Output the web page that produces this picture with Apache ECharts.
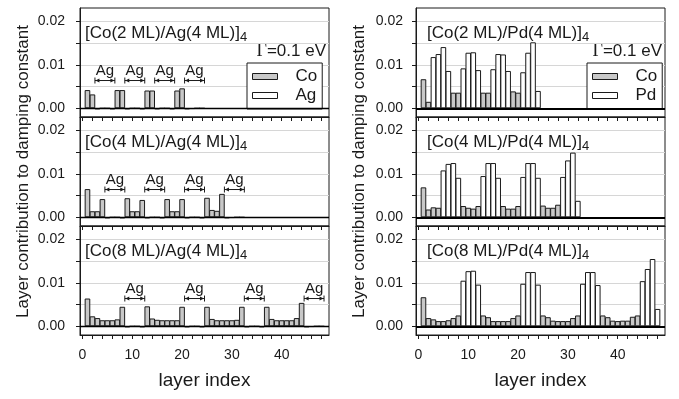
<!DOCTYPE html>
<html>
<head>
<meta charset="utf-8">
<script src="https://cdn.jsdelivr.net/npm/echarts@6/dist/echarts.min.js"></script>
<style>
html, body { margin: 0; padding: 0; background: #fff; }
#chart { width: 679px; height: 399px; }
</style>
</head>
<body>
<div id="chart"></div>
<script>
// layer contribution to the damping constant, layer index 1..N
var coAg2 = [0.0042, 0.0032, -0.0002, 0, 0, -0.0002,
             0.0042, 0.0042, -0.0002, 0, 0, -0.0002,
             0.0041, 0.0041, -0.0002, 0, 0, -0.0002,
             0.0041, 0.0046, -0.0002, -0.0001, 0, 0];
var coAg4 = [0.0065, 0.0014, 0.0014, 0.0042, -0.0002, 0, 0, -0.0002,
             0.0044, 0.0014, 0.0014, 0.0040, -0.0002, 0, 0, -0.0002,
             0.0042, 0.0014, 0.0014, 0.0042, -0.0002, 0, 0, -0.0002,
             0.0045, 0.0017, 0.0015, 0.0054, -0.0002, -0.0001, 0, 0];
var coAg8 = [0.0064, 0.0023, 0.0019, 0.0014, 0.0014, 0.0014, 0.0016, 0.0045, -0.0002, 0, 0, -0.0002,
             0.0046, 0.0018, 0.0015, 0.0014, 0.0014, 0.0014, 0.0014, 0.0045, -0.0002, 0, 0, -0.0002,
             0.0045, 0.0017, 0.0014, 0.0014, 0.0014, 0.0014, 0.0015, 0.0045, -0.0002, 0, 0, -0.0002,
             0.0045, 0.0017, 0.0014, 0.0014, 0.0014, 0.0014, 0.0019, 0.0054, -0.0002, -0.0001, 0, 0];
var coPd2 = [0.0067, 0.0015, 0.0118, 0.0125, 0.0141, 0.0086,
             0.0036, 0.0036, 0.0092, 0.0128, 0.0129, 0.0088,
             0.0036, 0.0036, 0.0090, 0.0125, 0.0124, 0.0086,
             0.0039, 0.0036, 0.0083, 0.0128, 0.0152, 0.0040];
var coPd4 = [0.0069, 0.0018, 0.0023, 0.0022, 0.0108, 0.0123, 0.0125, 0.0091,
             0.0026, 0.0022, 0.0020, 0.0026, 0.0095, 0.0125, 0.0125, 0.0091,
             0.0026, 0.0020, 0.0020, 0.0026, 0.0093, 0.0125, 0.0125, 0.0091,
             0.0027, 0.0022, 0.0022, 0.0029, 0.0093, 0.0131, 0.0149, 0.0038];
var coPd8 = [0.0067, 0.0019, 0.0016, 0.0012, 0.0012, 0.0014, 0.0019, 0.0025, 0.0105, 0.0127, 0.0128, 0.0096,
             0.0025, 0.0021, 0.0012, 0.0012, 0.0012, 0.0012, 0.0019, 0.0025, 0.0098, 0.0125, 0.0125, 0.0096,
             0.0025, 0.0021, 0.0013, 0.0012, 0.0012, 0.0012, 0.0019, 0.0025, 0.0098, 0.0125, 0.0125, 0.0095,
             0.0025, 0.0021, 0.0013, 0.0012, 0.0013, 0.0013, 0.0022, 0.0025, 0.0104, 0.0132, 0.0155, 0.0040];

var coLayers = [2, 4, 8];      // Co monolayers per period (rows)
var spacerLayers = 4;          // Ag / Pd monolayers per period
var periods = 4;
var xTicks = [0, 2, 4, 6, 8, 10, 12, 14, 16, 18, 20, 22, 24, 26, 28, 30, 32, 34, 36, 38, 40, 42, 44, 46, 48];
var xLabels = [0, 10, 20, 30, 40];
var yTicks = [0, 0.005, 0.01, 0.015, 0.02];
var yLabels = [0, 0.01, 0.02];

var panels = [
    {col: 0, row: 0, vals: coAg2, spacer: 'Ag'},
    {col: 0, row: 1, vals: coAg4, spacer: 'Ag'},
    {col: 0, row: 2, vals: coAg8, spacer: 'Ag'},
    {col: 1, row: 0, vals: coPd2, spacer: 'Pd'},
    {col: 1, row: 1, vals: coPd4, spacer: 'Pd'},
    {col: 1, row: 2, vals: coPd8, spacer: 'Pd'}
];

var FONT = '"Liberation Sans", Arial, Helvetica, sans-serif';
var INK = '#1a1a1a';
var gridLeft = [80, 416];
var gridTop = [8, 117, 226];
var W = 249, H = 109;

var grids = [], xAxes = [], yAxes = [], series = [], graphics = [];

panels.forEach(function (p, i) {
    var nCo = coLayers[p.row];
    var coData = [], spData = [], spans = [];
    p.vals.forEach(function (v, j) {
        var pos = j % (nCo + spacerLayers);
        if (pos < nCo) coData.push([j + 1, v]);
        else spData.push([j + 1, v]);
    });
    for (var k = 0; k < periods; k++) {
        var s = k * (nCo + spacerLayers) + nCo + 0.5;
        spans.push([s, s + spacerLayers]);
    }

    grids.push({
        left: gridLeft[p.col], top: gridTop[p.row], width: W, height: H,
        show: true, borderColor: INK, borderWidth: 1, backgroundColor: '#fff'
    });
    xAxes.push({
        gridIndex: i, type: 'value', min: -0.5, max: 49.5,
        axisLine: {show: true, onZero: false, lineStyle: {color: INK}},
        axisTick: {show: true, length: 4, customValues: xTicks, lineStyle: {color: INK}},
        axisLabel: {show: p.row === 2, customValues: xLabels, margin: 13,
            fontSize: 14, color: INK, fontFamily: FONT},
        splitLine: {show: false},
        name: p.row === 2 ? 'layer index' : '',
        nameLocation: 'middle', nameGap: 36,
        nameTextStyle: {fontSize: 19, color: INK, fontFamily: FONT}
    });
    yAxes.push({
        gridIndex: i, type: 'value', min: -0.002, max: 0.0231,
        axisLine: {show: true, onZero: false, lineStyle: {color: INK}},
        axisTick: {show: true, length: 4, customValues: yTicks, lineStyle: {color: INK}},
        axisLabel: {customValues: yLabels, margin: p.col === 0 ? 15 : 13,
            fontSize: 14, color: INK, fontFamily: FONT,
            formatter: function (v) { return v.toFixed(2); }},
        splitLine: {show: true, lineStyle: {color: '#d6d6d6', width: 1}},
        name: p.row === 1 ? 'Layer contribution to damping constant' : '',
        nameLocation: 'middle', nameRotate: 90, nameGap: 48,
        nameTextStyle: {fontSize: 17, color: INK, fontFamily: FONT}
    });

    series.push({
        type: 'bar', name: 'Co', xAxisIndex: i, yAxisIndex: i,
        data: coData, barWidth: 5.6, barGap: '-100%',
        itemStyle: {color: '#c8c8c8', borderColor: INK, borderWidth: 1},
        markLine: {
            silent: true, symbol: 'none', label: {show: false},
            lineStyle: {color: '#000', width: p.col === 0 ? 1.3 : 2, type: 'solid'},
            data: [{yAxis: 0}]
        }
    });
    series.push({
        type: 'bar', name: p.spacer, xAxisIndex: i, yAxisIndex: i,
        data: spData, barWidth: 5.6, barGap: '-100%',
        itemStyle: {color: '#fff', borderColor: INK, borderWidth: 1}
    });

    if (p.spacer === 'Ag') {
        series.push({
            type: 'custom', name: 'Ag span', xAxisIndex: i, yAxisIndex: i,
            data: spans, silent: true,
            renderItem: function (params, api) {
                var lvl = 0.0064;
                var a = api.coord([api.value(0), lvl]);
                var b = api.coord([api.value(1), lvl]);
                var st = {stroke: INK, lineWidth: 1};
                return {
                    type: 'group',
                    children: [
                        {type: 'line', shape: {x1: a[0], y1: a[1], x2: b[0], y2: b[1]}, style: st},
                        {type: 'line', shape: {x1: a[0], y1: a[1] - 3, x2: a[0], y2: a[1] + 3}, style: st},
                        {type: 'line', shape: {x1: b[0], y1: b[1] - 3, x2: b[0], y2: b[1] + 3}, style: st},
                        {type: 'polygon', shape: {points: [[a[0] + 0.5, a[1]], [a[0] + 4.5, a[1] - 2], [a[0] + 4.5, a[1] + 2]]}, style: {fill: INK}},
                        {type: 'polygon', shape: {points: [[b[0] - 0.5, b[1]], [b[0] - 4.5, b[1] - 2], [b[0] - 4.5, b[1] + 2]]}, style: {fill: INK}},
                        {type: 'text', x: (a[0] + b[0]) / 2, y: a[1] - 10,
                            style: {text: 'Ag', align: 'center', verticalAlign: 'middle',
                                fontSize: 15, fontFamily: FONT, fill: INK}}
                    ]
                };
            }
        });
    }

    var nm = p.spacer === 'Ag' ? 'Ag' : 'Pd';
    graphics.push({
        type: 'text', x: gridLeft[p.col] + (p.col === 0 ? 5 : 11), y: gridTop[p.row] + 25,
        style: {
            text: '{a|[Co(' + nCo + ' ML)/' + nm + '(4 ML)]}{s|4}',
            verticalAlign: 'middle', fill: INK,
            rich: {
                a: {fontSize: 17, fontFamily: FONT, fill: INK},
                s: {fontSize: 13, fontFamily: FONT, fill: INK, padding: [9, 0, 0, 0]}
            }
        }
    });
});

[0, 1].forEach(function (c) {
    graphics.push({
        type: 'text', x: gridLeft[c] + W - 3, y: 51,
        style: {
            text: '{g|\u0393}{t|=0.1 eV}', align: 'right', verticalAlign: 'middle',
            rich: {
                g: {fontSize: 18, fontFamily: '"Liberation Serif", "Times New Roman", serif', fill: INK},
                t: {fontSize: 17, fontFamily: FONT, fill: INK}
            }
        }
    });
});

function makeLegend(names, left) {
    return {
        data: names, orient: 'vertical', left: left, top: 63,
        icon: 'rect', itemWidth: 25, itemHeight: 6, itemGap: 2,
        padding: [5, 5, 5, 5],
        backgroundColor: '#fff', borderColor: INK, borderWidth: 1,
        itemStyle: {borderColor: INK, borderWidth: 1},
        textStyle: {fontSize: 17, fontFamily: FONT, color: INK, lineHeight: 17, padding: [0, 0, 0, 13]},
        selectedMode: false
    };
}

var chart = echarts.init(document.getElementById('chart'));
chart.setOption({
    backgroundColor: '#fff',
    animation: false,
    textStyle: {fontFamily: FONT},
    grid: grids,
    xAxis: xAxes,
    yAxis: yAxes,
    legend: [makeLegend(['Co', 'Ag'], 247), makeLegend(['Co', 'Pd'], 587)],
    series: series,
    graphic: graphics
});
</script>
</body>
</html>
